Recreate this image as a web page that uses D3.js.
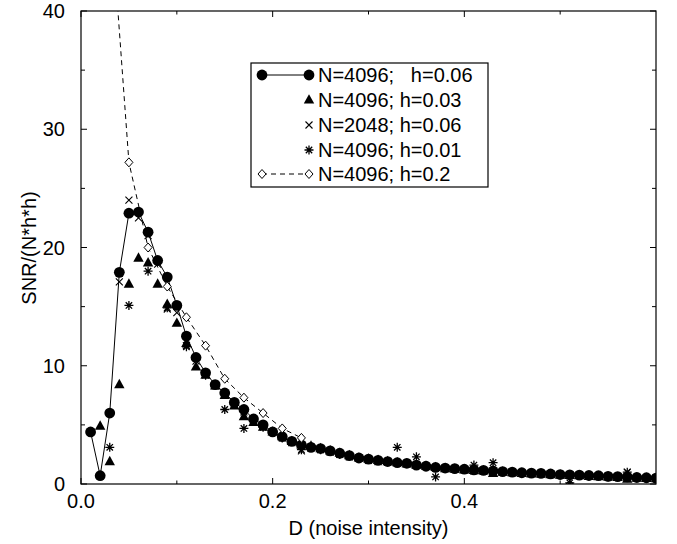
<!DOCTYPE html>
<html>
<head>
<meta charset="utf-8">
<script src="https://cdn.jsdelivr.net/npm/d3@7"></script>
<style>
  body { margin: 0; background: #fff; }
  text { font-family: "Liberation Sans", Arial, sans-serif; fill: #000; }
</style>
</head>
<body>
<svg width="677" height="544"></svg>
<script>
// noise intensity grid (0.01 steps)
var dGrid = [0.01,0.02,0.03,0.04,0.05,0.06,0.07,0.08,0.09,0.10,
	0.11,0.12,0.13,0.14,0.15,0.16,0.17,0.18,0.19,0.20,
	0.21,0.22,0.23,0.24,0.25,0.26,0.27,0.28,0.29,0.30,
	0.31,0.32,0.33,0.34,0.35,0.36,0.37,0.38,0.39,0.40,
	0.41,0.42,0.43,0.44,0.45,0.46,0.47,0.48,0.49,0.50,
	0.51,0.52,0.53,0.54,0.55,0.56,0.57,0.58,0.59,0.60];

// N=4096; h=0.06
var snrA = [4.4,0.7,6.0,17.9,22.9,23.0,21.3,18.9,17.5,15.1,
	12.5,10.7,9.4,8.4,7.7,6.9,6.3,5.5,5.0,4.4,
	4.0,3.6,3.3,3.1,3.0,2.8,2.6,2.4,2.2,2.1,
	2.0,1.9,1.8,1.75,1.6,1.5,1.4,1.35,1.3,1.25,
	1.2,1.15,1.1,1.05,1.0,0.95,0.92,0.9,0.85,0.8,
	0.78,0.75,0.72,0.7,0.65,0.62,0.6,0.55,0.53,0.5];

// N=4096; h=0.03
var snrB = [null,4.9,1.9,8.4,16.9,19.1,18.7,16.9,15.2,13.6,
	11.9,9.9,9.2,8.3,7.5,6.6,5.7,5.2,4.8,4.4,
	4.0,3.6,3.3,3.2,3.0,2.8,2.6,2.4,2.2,2.1,
	2.0,1.9,1.8,1.7,1.6,1.5,1.4,1.3,1.25,1.2,
	1.15,1.1,0.9,1.0,0.95,0.9,0.85,0.85,0.8,0.75,
	0.72,0.7,0.65,0.62,0.6,0.55,0.4,0.5,0.48,0.45];

// N=2048; h=0.06
var snrC = [null,null,null,17.1,24.0,22.5,21.0,18.6,14.8,14.5,
	11.7,10.4,9.3,8.3,7.6,6.8,6.1,5.4,4.9,4.4,
	3.9,3.5,2.8,3.1,2.9,2.7,2.5,2.3,2.2,2.0,
	1.9,1.85,1.8,1.7,1.6,1.5,1.4,1.3,1.25,1.2,
	1.1,1.1,1.05,1.0,0.95,0.9,0.9,0.85,0.8,0.8,
	0.3,0.72,0.7,0.68,0.62,0.6,1.0,0.55,0.5,0.48];

// N=4096; h=0.01 (odd grid)
var dOdd = [0.03,0.05,0.07,0.09,0.11,0.13,0.15,0.17,0.19,0.21,
	0.23,0.25,0.27,0.29,0.31,0.33,0.35,0.37,0.39,0.41,
	0.43,0.45,0.47,0.49,0.51,0.53,0.55,0.57,0.59];
var snrD = [3.1,15.1,18.0,14.9,11.6,9.2,6.3,4.7,4.8,3.9,
	2.9,2.9,2.5,2.2,2.0,3.1,2.3,0.6,1.3,1.6,
	1.8,1.0,0.9,0.8,0.1,0.7,0.6,1.0,0.5];

// N=4096; h=0.2
var dDiam = [0.03,0.05,0.07,0.09,0.11,0.13,0.15,0.17,0.19,0.21,0.23];
var snrE = [49.5,27.2,20.0,16.7,14.1,11.7,8.9,7.3,6.0,4.7,3.9];

var xTicks = [0.0, 0.1, 0.2, 0.3, 0.4, 0.5];
var xLabels = [0.0, 0.2, 0.4];
var yTicks = [0, 5, 10, 15, 20, 25, 30, 35, 40];
var yLabels = [0, 10, 20, 30, 40];

var legendLabels = ["N=4096;   h=0.06", "N=4096; h=0.03", "N=2048; h=0.06", "N=4096; h=0.01", "N=4096; h=0.2"];

var svg = d3.select("svg"),
	pL = 81, pR = 656, pT = 11, pB = 484;

var x = d3.scaleLinear().domain([0, 0.6]).range([pL, pR]);
var y = d3.scaleLinear().domain([0, 40]).range([pB, pT]);

svg.append("defs").append("clipPath").attr("id", "plot")
	.append("rect").attr("x", pL).attr("y", pT)
	.attr("width", pR - pL).attr("height", pB - pT);

// marker shapes
var shapes = {
	circle: function (g) {
		g.append("circle").attr("r", 5.4).style("fill", "#000");
	},
	tri: function (g) {
		g.append("path").attr("d", "M0,-5.8L5.2,3.6L-5.2,3.6Z").style("fill", "#000");
	},
	cross: function (g) {
		g.append("path").attr("d", "M-3.5,-3.5L3.5,3.5M-3.5,3.5L3.5,-3.5")
			.style("stroke", "#000").style("stroke-width", 1.1).style("fill", "none");
	},
	star: function (g) {
		g.append("path").attr("d", "M-4.5,0L4.5,0M0,-4.5L0,4.5M-3.2,-3.2L3.2,3.2M-3.2,3.2L3.2,-3.2")
			.style("stroke", "#000").style("stroke-width", 1.3).style("fill", "none");
	},
	diamond: function (g) {
		g.append("path").attr("d", "M0,-4.5L4,0L0,4.5L-4,0Z")
			.style("fill", "#fff").style("stroke", "#000").style("stroke-width", 1);
	}
};

function pairs(xs, ys) {
	return xs.map(function (d, i) { return { d: d, v: ys[i] }; })
		.filter(function (p) { return p.v != null; });
}

var plot = svg.append("g").attr("clip-path", "url(#plot)");

var line = d3.line()
	.x(function (p) { return x(p.d); })
	.y(function (p) { return y(p.v); });

function drawMarkers(data, shape) {
	plot.append("g").selectAll("g")
		.data(data)
		.enter().append("g")
		.attr("transform", function (p) { return "translate(" + x(p.d) + "," + y(p.v) + ")"; })
		.each(function () { shapes[shape](d3.select(this)); });
}

var dataA = pairs(dGrid, snrA),
	dataB = pairs(dGrid, snrB),
	dataC = pairs(dGrid, snrC),
	dataD = pairs(dOdd, snrD),
	dataE = pairs(dDiam, snrE);

plot.append("path").datum(dataA).attr("d", line)
	.style("fill", "none").style("stroke", "#000").style("stroke-width", 1);
plot.append("path").datum(dataE).attr("d", line)
	.style("fill", "none").style("stroke", "#000").style("stroke-width", 1)
	.style("stroke-dasharray", "5,4");

drawMarkers(dataB, "tri");
drawMarkers(dataA, "circle");
drawMarkers(dataC, "cross");
drawMarkers(dataD, "star");
drawMarkers(dataE, "diamond");

// frame
svg.append("rect").attr("x", pL).attr("y", pT)
	.attr("width", pR - pL).attr("height", pB - pT)
	.style("fill", "none").style("stroke", "#000").style("stroke-width", 1.2);

// inward ticks on all four sides
var tk = svg.append("g").style("stroke", "#000").style("stroke-width", 1);
xTicks.forEach(function (t) {
	var len = xLabels.indexOf(t) >= 0 ? 6 : 3.5;
	tk.append("line").attr("x1", x(t)).attr("x2", x(t)).attr("y1", pB).attr("y2", pB - len);
	tk.append("line").attr("x1", x(t)).attr("x2", x(t)).attr("y1", pT).attr("y2", pT + len);
});
yTicks.forEach(function (t) {
	var len = yLabels.indexOf(t) >= 0 ? 6 : 4;
	tk.append("line").attr("x1", pL).attr("x2", pL + len).attr("y1", y(t)).attr("y2", y(t));
	tk.append("line").attr("x1", pR).attr("x2", pR - len).attr("y1", y(t)).attr("y2", y(t));
});

svg.append("g").selectAll("text")
	.data(xLabels)
	.enter().append("text")
	.attr("x", function (t) { return x(t); })
	.attr("y", 508)
	.attr("text-anchor", "middle")
	.style("font-size", "20px")
	.text(function (t) { return d3.format(".1f")(t); });

svg.append("g").selectAll("text")
	.data(yLabels)
	.enter().append("text")
	.attr("x", pL - 16)
	.attr("y", function (t) { return y(t) + 7; })
	.attr("text-anchor", "end")
	.style("font-size", "20px")
	.text(function (t) { return t; });

svg.append("text")
	.attr("x", (pL + pR) / 2)
	.attr("y", 535)
	.attr("text-anchor", "middle")
	.style("font-size", "20px")
	.text("D (noise intensity)");

svg.append("text")
	.attr("transform", "translate(36," + 248 + ") rotate(-90)")
	.attr("text-anchor", "middle")
	.style("font-size", "20px")
	.text("SNR/(N*h*h)");

// legend
var lg = svg.append("g");
lg.append("rect").attr("x", 251).attr("y", 63).attr("width", 237).attr("height", 124)
	.style("fill", "#fff").style("stroke", "#000").style("stroke-width", 1.2);

var legendShapes = ["circle", "tri", "cross", "star", "diamond"];
var rowY = [75, 100, 125, 150, 174];

legendLabels.forEach(function (label, i) {
	var row = lg.append("g");
	if (i == 0 || i == 4) {
		row.append("line").attr("x1", 262).attr("x2", 309).attr("y1", rowY[i]).attr("y2", rowY[i])
			.style("stroke", "#000").style("stroke-width", 1)
			.style("stroke-dasharray", i == 4 ? "5,4" : null);
		shapes[legendShapes[i]](row.append("g").attr("transform", "translate(262," + rowY[i] + ")"));
	}
	shapes[legendShapes[i]](row.append("g").attr("transform", "translate(309," + rowY[i] + ")"));
	row.append("text")
		.attr("x", 318)
		.attr("y", rowY[i] + 7)
		.style("font-size", "20px")
		.style("white-space", "pre")
		.text(label);
});
</script>
</body>
</html>
